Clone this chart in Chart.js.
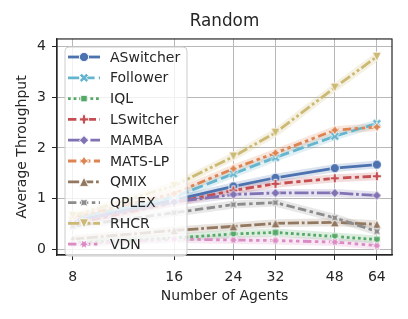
<!DOCTYPE html>
<html lang="en">
<head>
<meta charset="UTF-8">
<title>Random</title>
<script src="https://cdn.jsdelivr.net/npm/chart.js@4.4.1/dist/chart.umd.min.js"></script>
<style>
  html, body { margin: 0; padding: 0; background: #fff; }
  #wrap { width: 408px; height: 319px; }
</style>
</head>
<body>
<div id="wrap"><canvas id="canvas"></canvas></div>
<script>
// data
const agents = [8, 16, 24, 32, 48, 64];
const aswitcher = [0.55, 0.97, 1.24, 1.41, 1.60, 1.67];
const follower  = [0.60, 1.03, 1.49, 1.81, 2.23, 2.48];
const iql       = [0.12, 0.22, 0.30, 0.33, 0.25, 0.19];
const lswitcher = [0.50, 0.92, 1.16, 1.29, 1.40, 1.44];
const mamba     = [0.55, 0.93, 1.08, 1.11, 1.11, 1.06];
const matsLp    = [0.62, 1.10, 1.59, 1.90, 2.35, 2.41];
const qmix      = [0.20, 0.37, 0.45, 0.51, 0.53, 0.49];
const qplex     = [0.45, 0.72, 0.88, 0.92, 0.62, 0.35];
const rhcr      = [0.66, 1.25, 1.83, 2.30, 3.19, 3.80];
const vdn       = [0.10, 0.20, 0.18, 0.17, 0.14, 0.07];
const yTicks = [0, 1, 2, 3, 4];

const FONT = "'DejaVu Sans', sans-serif";
const TEXT = "#262626";
const LW = 2.8;

// seaborn-ish styles: color, dash (in line widths), marker
const styles = [
    { name: "ASwitcher", data: aswitcher, color: "#4c72b0", dash: [], marker: "circle" },
    { name: "Follower", data: follower, color: "#64b5cd", dash: [4, 1.5], marker: "xfill" },
    { name: "IQL", data: iql, color: "#55a868", dash: [1, 1], marker: "square" },
    { name: "LSwitcher", data: lswitcher, color: "#c44e52", dash: [3, 1.25, 1.5, 1.25], marker: "plus" },
    { name: "MAMBA", data: mamba, color: "#8172b3", dash: [5, 1, 1, 1], marker: "diamond" },
    { name: "MATS-LP", data: matsLp, color: "#dd8452", dash: [3, 1.25, 1.25, 1.25, 1.25, 1.25], marker: "star4" },
    { name: "QMIX", data: qmix, color: "#937860", dash: [4, 1, 4, 1, 1, 1], marker: "triUp" },
    { name: "QPLEX", data: qplex, color: "#8c8c8c", dash: [3, 1.25, 3, 1.25, 1.25, 1.25], marker: "star4rot" },
    { name: "RHCR", data: rhcr, color: "#ccb974", dash: [4, 1, 1, 1, 1, 1], marker: "triDown" },
    { name: "VDN", data: vdn, color: "#da8bc3", dash: [3, 1.25, 1.25, 1.25, 1.25, 1.25, 1.25, 1.25], marker: "star6" }
];

function hexAlpha(hex, a) {
    const n = parseInt(hex.slice(1), 16);
    return `rgba(${(n >> 16) & 255},${(n >> 8) & 255},${n & 255},${a})`;
}

function regularPts(n, r, angleDeg, star) {
    const pts = [];
    const steps = star ? n * 2 : n;
    for (let i = 0; i < steps; i++) {
        const rad = star && i % 2 === 1 ? r * 0.5 : r;
        const a = (angleDeg + i * 360 / steps) * Math.PI / 180;
        pts.push([rad * Math.sin(a), -rad * Math.cos(a)]);
    }
    return pts;
}

function shapePts(kind, r) {
    switch (kind) {
        case "square": return regularPts(4, r, 45, false);
        case "diamond": return regularPts(4, r, 0, false);
        case "star4": return regularPts(4, r * 1.1, 0, true);
        case "star4rot": return regularPts(4, r * 1.1, 45, true);
        case "star6": return regularPts(6, r * 1.1, 30, true);
        case "triUp": return [[0, -r], [r, r], [-r, r]];
        case "triDown": return [[0, r], [r, -r], [-r, -r]];
        case "plus":
            return [[-1, -3], [1, -3], [1, -1], [3, -1], [3, 1], [1, 1], [1, 3], [-1, 3], [-1, 1], [-3, 1], [-3, -1], [-1, -1]]
                .map(p => [p[0] * r / 3, p[1] * r / 3]);
        case "xfill":
            return [[-1, -2], [0, -1], [1, -2], [2, -1], [1, 0], [2, 1], [1, 2], [0, 1], [-1, 2], [-2, 1], [-1, 0], [-2, -1]]
                .map(p => [p[0] * r / 2, p[1] * r / 2]);
    }
    return [];
}

function drawMarker(g, kind, x, y, color) {
    const r = 4.6;
    g.save();
    g.setLineDash([]);
    g.beginPath();
    if (kind === "circle") {
        g.arc(x, y, r, 0, Math.PI * 2);
    } else {
        shapePts(kind, r).forEach((p, i) => i ? g.lineTo(x + p[0], y + p[1]) : g.moveTo(x + p[0], y + p[1]));
        g.closePath();
    }
    g.fillStyle = color;
    g.fill();
    g.strokeStyle = "#ffffff";
    g.lineWidth = 0.9;
    g.stroke();
    g.restore();
}

function markerCanvas(kind, color) {
    const c = document.createElement("canvas");
    c.width = 16;
    c.height = 16;
    drawMarker(c.getContext("2d"), kind, 8, 8, color);
    return c;
}

const datasets = [];
styles.forEach((s, i) => {
    const pts = agents.map((a, k) => ({ x: a, y: s.data[k] }));
    // faint band around each line
    datasets.push({
        label: s.name + " band",
        data: pts,
        borderColor: hexAlpha(s.color, 0.2),
        borderWidth: 8,
        pointRadius: 0,
        fill: false,
        order: 100
    });
    datasets.push({
        label: s.name,
        data: pts,
        borderColor: s.color,
        borderWidth: LW,
        borderDash: s.dash.map(d => d * LW),
        pointStyle: markerCanvas(s.marker, s.color),
        pointRadius: 5,
        fill: false,
        order: -i
    });
});

// plot frame and matplotlib-style legend box
const framePlugin = {
    id: "frameLegend",
    afterDatasetsDraw(chart) {
        const g = chart.ctx;
        const a = chart.chartArea;
        g.save();
        g.strokeStyle = TEXT;
        g.lineWidth = 1.2;
        g.strokeRect(a.left, a.top, a.right - a.left, a.bottom - a.top);

        // legend
        const bx = 65, by = 47, bw = 122, bh = 209, rad = 4;
        g.beginPath();
        g.roundRect(bx, by, bw, bh, rad);
        g.fillStyle = "rgba(255,255,255,0.8)";
        g.fill();
        g.strokeStyle = "#cccccc";
        g.lineWidth = 1;
        g.stroke();

        g.font = "14px " + FONT;
        g.textBaseline = "middle";
        g.fillStyle = TEXT;
        styles.forEach((s, i) => {
            const y = 57 + i * 20.8;
            g.save();
            g.strokeStyle = s.color;
            g.lineWidth = LW;
            g.setLineDash(s.dash.map(d => d * LW));
            g.beginPath();
            g.moveTo(68, y);
            g.lineTo(100, y);
            g.stroke();
            g.restore();
            drawMarker(g, s.marker, 84, y, s.color);
            g.fillStyle = TEXT;
            g.fillText(s.name, 110, y + 1);
        });
        g.restore();
    }
};

new Chart(document.getElementById("canvas"), {
    type: "line",
    data: { datasets: datasets },
    plugins: [framePlugin],
    options: {
        responsive: true,
        maintainAspectRatio: false,
        animation: false,
        layout: { padding: { left: 0, right: 16, top: 0, bottom: 0 } },
        plugins: {
            legend: { display: false },
            tooltip: { enabled: false },
            title: {
                display: true,
                text: "Random",
                fullSize: false,
                color: TEXT,
                font: { family: FONT, size: 16.8, weight: "normal" },
                padding: { top: 12, bottom: 6.8 }
            }
        },
        scales: {
            x: {
                type: "logarithmic",
                min: 7.18,
                max: 71,
                afterBuildTicks: scale => { scale.ticks = agents.map(v => ({ value: v })); },
                afterFit: scale => { scale.height = 64; },
                ticks: {
                    color: TEXT,
                    font: { family: FONT, size: 14 },
                    padding: 9,
                    maxRotation: 0,
                    autoSkip: false,
                    callback: v => String(v)
                },
                grid: { color: "#b8b8b8", lineWidth: 1, tickColor: TEXT, tickLength: 5 },
                border: { display: true, color: TEXT, width: 1.2 },
                title: {
                    display: true,
                    text: "Number of Agents",
                    color: TEXT,
                    font: { family: FONT, size: 14 },
                    padding: { top: 0, bottom: 14.6 }
                }
            },
            y: {
                type: "linear",
                min: -0.115,
                max: 4.15,
                afterBuildTicks: scale => { scale.ticks = yTicks.map(v => ({ value: v })); },
                afterFit: scale => { scale.width = 57; },
                ticks: {
                    color: TEXT,
                    font: { family: FONT, size: 14 },
                    padding: 6,
                    callback: v => String(v)
                },
                grid: { color: "#b8b8b8", lineWidth: 1, tickColor: TEXT, tickLength: 5 },
                border: { display: true, color: TEXT, width: 1.2 },
                title: {
                    display: true,
                    text: "Average Throughput",
                    color: TEXT,
                    font: { family: FONT, size: 14 },
                    padding: { top: 13.6, bottom: 0 }
                }
            }
        }
    }
});
</script>
</body>
</html>
